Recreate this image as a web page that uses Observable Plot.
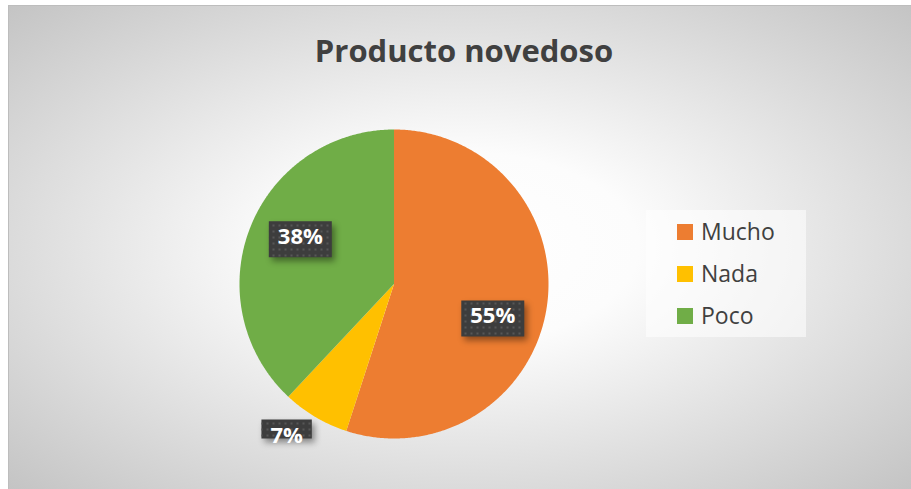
<!DOCTYPE html>
<html><head><meta charset="utf-8">
<script src="https://cdn.jsdelivr.net/npm/d3@7"></script>
<script src="https://cdn.jsdelivr.net/npm/@observablehq/plot@0.6"></script>
<style>
html,body{margin:0;padding:0;background:#fff;}
#wrap{position:relative;width:911px;height:489px;overflow:hidden;}
#bg{position:absolute;left:8px;top:5px;width:903px;height:484px;box-sizing:border-box;border-left:1px solid #bdbdbd;border-top:1px solid #bdbdbd;
background:radial-gradient(ellipse farthest-corner at 50% 50%, #ffffff 0%, #fcfcfc 28%, #c4c4c4 100%);}
#chart{position:absolute;left:0;top:0;}
</style></head><body><div id="wrap"><div id="bg"></div><div id="chart"></div></div>
<script>
// ---- data ----
const title = "Producto novedoso";
const categories = ["Mucho", "Nada", "Poco"];
const values = [55, 7, 38];
const colors = ["#ED7D31", "#FFC000", "#70AD47"];
const labels = ["55%", "7%", "38%"];

// ---- layout ----
const W = 911, H = 489;
const M = {left: 239, right: 363, top: 129, bottom: 51};
const R = (W - M.left - M.right) / 2; // pixel radius
const labelLayout = { // radial factor and pixel nudge
  Mucho: {f: 0.68, dx: -5, dy: 16},
  Nada:  {f: 1.2,  dx: -13, dy: -8},
  Poco:  {f: 0.68, dx: 4, dy: -8}
};

const data = categories.map((c, i) => ({category: c, value: values[i], label: labels[i]}));
const arcs = d3.pie().sort(null).value(d => d.value)(data);

const slices = arcs.map(p => {
  const pts = [[0, 0]];
  const n = Math.max(2, Math.ceil((p.endAngle - p.startAngle) / (Math.PI / 360)));
  for (let i = 0; i <= n; i++) {
    const a = p.startAngle + (p.endAngle - p.startAngle) * i / n;
    pts.push([Math.sin(a), Math.cos(a)]);
  }
  pts.push([0, 0]);
  return {type: "Feature", properties: {category: p.data.category}, geometry: {type: "Polygon", coordinates: [pts]}};
});

const ctx = document.createElement("canvas").getContext("2d");
ctx.font = "bold 22px 'Open Sans'";
const labelData = arcs.map(p => {
  const L = labelLayout[p.data.category];
  const mid = (p.startAngle + p.endAngle) / 2;
  const x = L.f * Math.sin(mid) + L.dx / R;
  const y = L.f * Math.cos(mid) - L.dy / R;
  const tw = ctx.measureText(p.data.label).width;
  const hw = (tw + 18) / 2 / R, hh = 18 / R, by = y - 2 / R;
  return {x, y, label: p.data.label,
    box: {type: "Feature", properties: {}, geometry: {type: "Polygon", coordinates: [[[x-hw,by-hh],[x-hw,by+hh],[x+hw,by+hh],[x+hw,by-hh],[x-hw,by-hh]]]}}};
});
const boxes = labelData.map(d => d.box);

const svg = Plot.plot({
  width: W, height: H,
  marginLeft: M.left, marginRight: M.right, marginTop: M.top, marginBottom: M.bottom,
  projection: {type: "reflect-y", domain: {type: "MultiPoint", coordinates: [[-1, -1], [1, 1]]}},
  color: {domain: categories, range: colors},
  style: {background: "transparent", fontFamily: "'Open Sans', sans-serif", overflow: "visible"},
  marks: [
    Plot.geo(slices, {fill: d => d.properties.category, stroke: "none"}),
    Plot.geo(boxes, {fill: "#3d3d3d", stroke: "none", imageFilter: "drop-shadow(3px 4px 3px rgba(0,0,0,0.4))"}),
    Plot.geo(boxes, {fill: "url(#dots)", stroke: "none"}),
    Plot.text(labelData, {x: "x", y: "y", text: "label", fill: "white", fontWeight: "bold", fontSize: 22, fontFamily: "'Open Sans', sans-serif"})
  ]
});

const s = d3.select(svg);
s.insert("defs", ":first-child").html(
  '<pattern id="dots" width="6" height="6" patternUnits="userSpaceOnUse">' +
  '<rect x="2" y="2" width="2" height="2" fill="#575757"/></pattern>');

s.append("text").attr("x", 464).attr("y", 62).attr("text-anchor", "middle")
  .attr("font-family", "'Open Sans', sans-serif").attr("font-weight", "bold").attr("font-size", 31)
  .attr("fill", "#404040").text(title);

const lg = s.append("g").attr("text-anchor", "start");
lg.append("rect").attr("x", 646).attr("y", 210).attr("width", 160).attr("height", 127).attr("fill", "rgba(255,255,255,0.55)");
categories.forEach((c, i) => {
  lg.append("rect").attr("x", 677).attr("y", 224 + 42 * i).attr("width", 16).attr("height", 16).attr("fill", colors[i]);
  lg.append("text").attr("x", 701).attr("y", 240 + 42 * i).attr("text-anchor", "start").attr("font-family", "'Open Sans', sans-serif")
    .attr("font-size", 23).attr("fill", "#404040").text(c);
});

document.getElementById("chart").appendChild(svg);
</script></body></html>
